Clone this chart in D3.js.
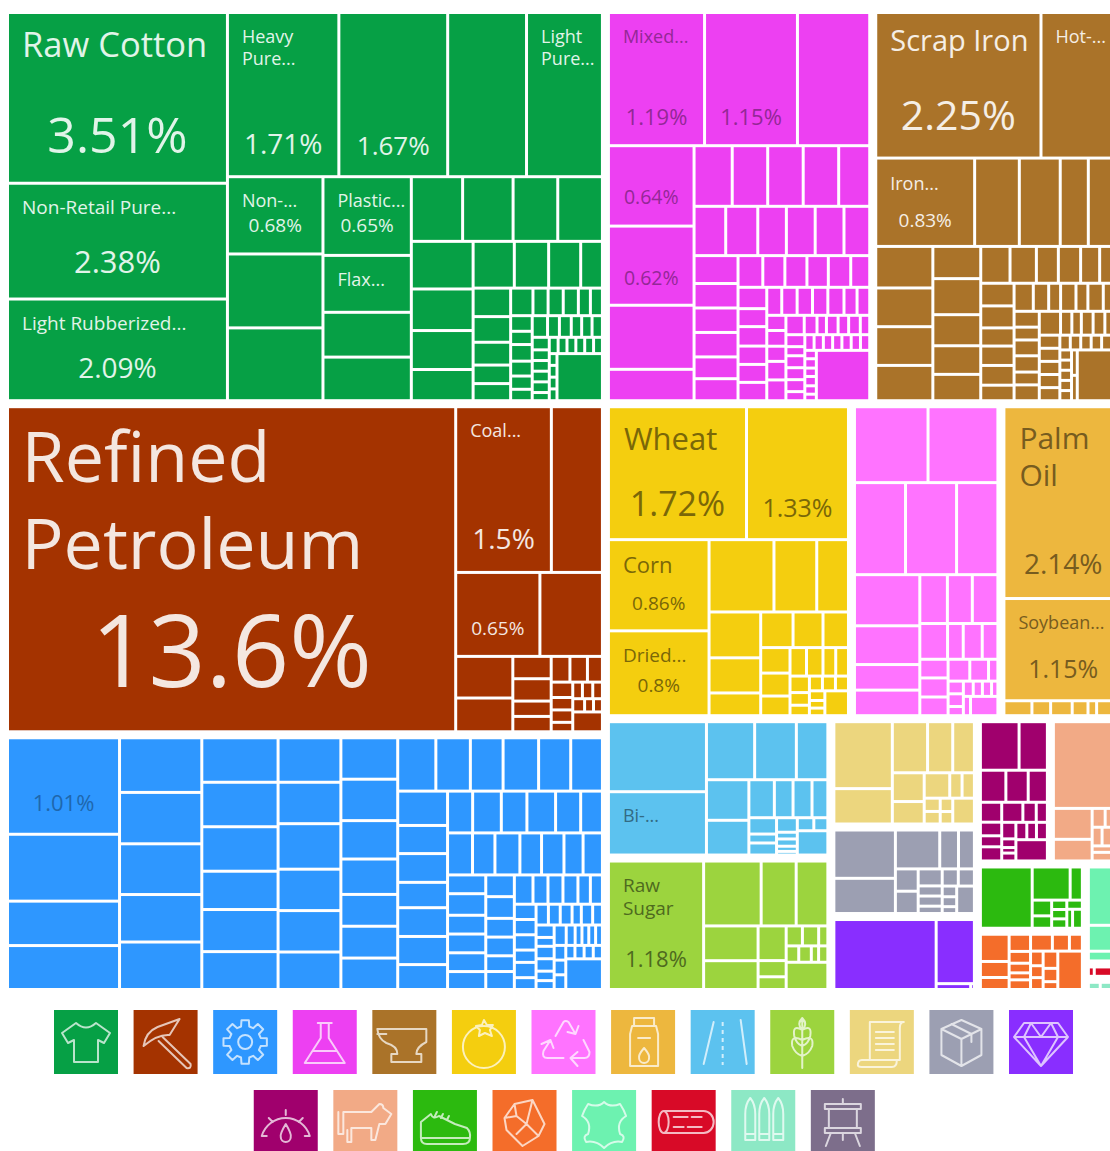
<!DOCTYPE html>
<html><head><meta charset="utf-8">
<script src="https://cdn.jsdelivr.net/npm/d3@7"></script>
<style>html,body{margin:0;background:#fff}svg{display:block}text{font-family:"Open Sans",sans-serif}</style>
</head><body><svg id="c" width="1110" height="1151"></svg>
<script>
// Sector tables
const sectorNames = ["Textiles","Mineral Products","Machines","Chemical Products","Metals","Foodstuffs","Recycled","Oils","Transportation","Vegetable Products","Paper","Instruments","Precious Metals","Plastics","Animal Products","Footwear","Stone","Animal Hides","Wood","Arms"];
const sectorColors = ["#06a045","#a43300","#2e97ff","#ed40f2","#aa7329","#f4ce0f","#ff73ff","#edb73e","#5cc2ef","#9cd43e","#ecd67e","#9c9fb2","#892eff","#a0006d","#f2aa86","#2cba0f","#f46d2a","#6df2b0","#d80a27","#8de8c5"];
const sectorShares = [21.49,18.05,14.05,9.56,9.04,7.03,4.27,3.56,2.85,2.75,1.44,1.19,1.01,0.962,0.99,0.659,0.60,0.364,0.056,0.048];
const inkDarken = [0,0,.32,.38,0,.5,.4,.5,.45,.5,.5,.5,0,0,0,0,0,.5,0,.5];
const sectorGroups = [[0,1,2],[3,4],[5,6,7],[8,9],[10,11,12],[13,14],[15,16],[17,18,19]];

// Share of trade (%) per product, grouped as the layout rows
const textiles = [[3.51,2.38,2.09],[1.71,1.67,1.21,1.165],[.69,.66,.65],[.65,.47,.37,.36],[.31,.305,.27,.27],[.275,.24,.225,.18],[.18,.15,.14,.095],[.1,.09,.08,.065,.06],[.0575,.039,.039,.039,.031,.031],[.0315,.0267,.0335,.03,.0267,.023],[.031,.024,.024,.021,.021,.021],[.02,.017,.017,.017,.017,.013],[.0135,.0135,.0135,.0135,.0135,.0135],[.0085,.0085,.0085,.0085],[.2]];
const mineral = [[13.6],[1.48,.79],[.66,.49],[.222,.18],[.08,.08,.055,.055],[.045,.042,.036],[.031,.025,.025,.019],[.015,.016,.015],[.0146,.011,.011],[.055]];
const machines = [[1.01,.70,.465,.46],[.42,.395,.39,.365,.365],[.317,.317,.317,.273,.30,.27],[.261,.243,.267,.243,.243,.22],[.22,.22,.204,.188,.169,.169,.167],[.19,.172,.163,.177,.16,.158],[.16,.131,.134,.118,.134,.131,.116],[.098,.112,.10,.112,.098,.085],[.098,.088,.098,.085,.088,.075,.076],[.067,.077,.067,.067,.067,.064],[.058,.058,.05,.05,.042,.048],[.051,.041,.041,.041,.034,.033],[.031,.031,.031,.025,.031,.024],[.024,.023,.023,.018,.022,.019],[.021,.015,.021,.021,.016,.015],[.023,.017,.013,.013,.013,.013],[.016,.016,.016],[.0115,.0115,.0115,.0115],[.105]];
const chemicals = [[1.19,1.15,.895],[.64,.63,.51,.25],[.215,.2,.2,.2,.175],[.145,.147,.131,.132,.132,.118],[.114,.10,.10,.10,.089,.09],[.073,.065,.065,.063,.066,.056],[.057,.048,.052,.049,.048,.049],[.039,.04,.04,.04,.042,.034,.033],[.027,.028,.027,.033,.037],[.033,.023,.017,.021,.019,.021,.017],[.021,.016,.021,.021,.021,.016],[.0135,.0135,.0135,.0135,.0135,.0135,.0135],[.009,.01,.009,.01,.009,.007],[.25]];
const metals = [[2.23,1.10],[.81,.366,.335,.23,.28],[.22,.205,.205,.187],[.143,.16,.138,.127,.117],[.10,.09,.075,.076,.065,.078],[.07,.068,.056,.06,.061,.048],[.05,.04,.031,.04,.031,.04,.05],[.037,.03,.037,.038,.03,.037],[.047,.025,.021,.026,.026,.018,.021],[.025,.025,.025,.025,.025],[.0143,.0143,.0143,.0143,.0143,.0143],[.011,.011,.011,.011,.011],[.0135,.0135],[.213]];
const foodstuffs = [[1.72,1.27],[.86,.80],[.44,.29,.215],[.222,.17,.11],[.108,.10,.085],[.07,.063,.054],[.044,.044,.034,.034],[.03,.023,.019],[.018,.018,.018],[.014,.011,.011],[.055]];
const recycled = [[.518,.492],[.436,.436,.353],[.31,.235,.155,.155],[.125,.113,.116],[.092,.052,.063,.052],[.049,.05,.049],[.044,.038,.019],[.018,.018,.013],[.014,.013,.013,.009],[.0128],[.049]];
const oils = [[2.12],[1.13],[.039,.026,.03,.022,.012,.036]];
const transportation = [[.638,.577],[.26,.225,.17],[.16,.137],[.09,.066,.067,.056],[.042,.023,.031],[.028,.013,.014,.01,.007],[.02,.017],[.069]];
const vegetable = [[1.13],[.345,.21,.19],[.175,.145],[.09,.042,.033],[.03,.03,.017],[.019,.019,.011,.014],[.105]];
const paper = [[.35,.185],[.161,.115,.099],[.082,.064],[.058,.028,.028],[.019,.018],[.015,.014],[.05]];
const instruments = [[.269,.196],[.156,.066,.056],[.046,.046],[.037,.022,.022,.016],[.025,.025],[.014,.013,.009],[.044]];
const precious = [[.654],[.224],[.0185,.002]];
const plastics = [[.168,.123],[.073,.064,.055],[.038,.026,.021,.027],[.038,.024,.02],[.021,.011,.007,.01],[.017,.015,.017],[.06]];
const animal = [[.55],[.11,.077],[.0225,.03],[.017,.035],[.018,.024]];
const footwear = [[.29],[.115,.037],[.028,.022],[.013,.013,.013],[.013],[.01,.017]];
const stone = [[.068,.04,.03],[.032,.022,.018,.013,.018],[.032,.025,.019],[.016,.013,.013],[.022,.017,.01],[.082]];
const hides = [[.18,.08,.03]];
const wood = [[.005,.024]];
const arms = [[.008,.008,.007]];
const sectorRows = [textiles,mineral,machines,chemicals,metals,foodstuffs,recycled,oils,transportation,vegetable,paper,instruments,precious,plastics,animal,footwear,stone,hides,wood,arms];

// Rows whose direction goes against the width/height rule (ties in the reference)
const flippedRows = new Set(["top:7","4:1","7:1","7:2","8:3","12:2","17:0","18:0","19:0"]);

// Text: sector, row, cell, title lines, percent
const labelCells = [
 [0,0,0,["Raw Cotton"],"3.51%"],[0,0,1,["Non-Retail Pure..."],"2.38%"],[0,0,2,["Light Rubberized..."],"2.09%"],
 [0,1,0,["Heavy","Pure..."],"1.71%"],[0,1,1,[],"1.67%"],[0,1,3,["Light","Pure..."],""],
 [0,2,0,["Non-..."],"0.68%"],[0,3,0,["Plastic..."],"0.65%"],[0,3,1,["Flax..."],""],
 [1,0,0,["Refined","Petroleum"],"13.6%"],[1,1,0,["Coal..."],"1.5%"],[1,2,0,[],"0.65%"],
 [3,0,0,["Mixed..."],"1.19%"],[3,0,1,[],"1.15%"],[3,1,0,[],"0.64%"],[3,1,1,[],"0.62%"],
 [4,0,0,["Scrap Iron"],"2.25%"],[4,0,1,["Hot-..."],""],[4,1,0,["Iron..."],"0.83%"],
 [5,0,0,["Wheat"],"1.72%"],[5,0,1,[],"1.33%"],[5,1,0,["Corn"],"0.86%"],[5,1,1,["Dried..."],"0.8%"],
 [7,0,0,["Palm","Oil"],"2.14%"],[7,1,0,["Soybean..."],"1.15%"],
 [2,0,0,[],"1.01%"],[8,0,1,["Bi-..."],""],[9,0,0,["Raw","Sugar"],"1.18%"]
];
// Text styling, same order: title size, title baseline, percent size, percent baseline (from cell top)
const labelStyles = [
 [34.5,43,50,139],[19,29,31,88],[19,29,28,77],[18,29,28,140],[0,0,26,141],[18,29,0,0],[18,29,19,54],[18,29,19,54],[18,29,0,0],
 [70,74,100,279],[18,29,28,141],[0,0,19,61],
 [18,29,22,111],[0,0,22,111],[0,0,19.5,57],[0,0,19.5,57],
 [29,37,41,116],[18,29,0,0],[18,30,19,67],
 [31,42,34,108],[0,0,25,109],[22,32,19,69],[19,30,19,60],
 [30,41,28,166],[18,29,25,78],[0,0,22,72],[18,29,0,0],[19,29,22,104]
];

// Legend order (row 2 ends with a sector too small to appear in the map)
const legendTop = [0,1,2,3,4,5,6,7,8,9,10,11,12];
const legendBottom = [13,14,15,16,17,18,19,20];
const legendColors = sectorColors.concat(["#7d6e8b"]);

// ---- hierarchy
const tree = {name:"root",children:sectorGroups.map((g,gi)=>({key:"top:"+gi,children:g.map(s=>({
  name:sectorNames[s],sector:s,
  children:sectorRows[s].map((r,ri)=>({key:s+":"+ri,children:r.map((v,ci)=>({value:v,sector:s,row:ri,cell:ci}))}))
}))}))};
const root = d3.hierarchy(tree).sum(d=>d.value||0);
// sector boxes are sized from their measured shares; the gaps are taken out of them
root.eachAfter(n=>{ if(n.depth===2) n.value=sectorShares[n.data.sector]; else if(n.depth<2) n.value=d3.sum(n.children,c=>c.value); });

function stackTile(node,x0,y0,x1,y1){
  let rest=d3.sum(node.children,c=>c.value);
  for(const c of node.children){
    const across=((x1-x0)<(y1-y0))!==flippedRows.has(c.data.key);
    c.across=across;
    const k=c.value/rest;
    if(across){const h=(y1-y0)*k;c.x0=x0;c.x1=x1;c.y0=y0;c.y1=y0+h;y0+=h;}
    else{const w=(x1-x0)*k;c.x0=x0;c.x1=x0+w;c.y0=y0;c.y1=y1;x0+=w;}
    rest-=c.value;
  }
}
function lineTile(node,x0,y0,x1,y1){
  const total=d3.sum(node.children,c=>c.value);
  let p=node.across?x0:y0;
  for(const c of node.children){
    if(node.across){const w=(x1-x0)*c.value/total;c.x0=p;c.x1=p+w;c.y0=y0;c.y1=y1;p+=w;}
    else{const h=(y1-y0)*c.value/total;c.y0=p;c.y1=p+h;c.x0=x0;c.x1=x1;p+=h;}
  }
}
function tile(node,x0,y0,x1,y1){
  if(node.depth%2===0) stackTile(node,x0,y0,x1,y1);
  else lineTile(node,x0,y0,x1,y1);
}
d3.treemap().tile(tile).size([1112,974]).paddingInner(n=>n.depth<2?9:3)(root);

const svg=d3.select("#c");
const map=svg.append("g").attr("transform","translate(9,14)");
map.selectAll("rect").data(root.leaves()).join("rect")
  .attr("x",d=>d.x0).attr("y",d=>d.y0)
  .attr("width",d=>Math.max(0,d.x1-d.x0)).attr("height",d=>Math.max(0,d.y1-d.y0))
  .attr("fill",d=>sectorColors[d.data.sector]);

function ink(s){return inkDarken[s]?d3.interpolateRgb(sectorColors[s],"#000")(inkDarken[s]):d3.interpolateRgb(sectorColors[s],"#fff")(0.88);}
const leaves=root.leaves();
labelCells.forEach((l,i)=>{
  const [s,r,c,lines,pct]=l,[ts,ty,ps,py]=labelStyles[i];
  const n=leaves.find(d=>d.data.sector===s&&d.data.row===r&&d.data.cell===c);
  const dx=ts>=60?12.5:ts>=34?13:ts>=30?14:13;
  lines.forEach((t,j)=>map.append("text").attr("x",n.x0+dx).attr("y",n.y0+ty+j*ts*1.24)
    .attr("font-size",ts).attr("fill",ink(s)).text(t));
  if(pct) map.append("text").attr("x",(n.x0+n.x1)/2).attr("y",n.y0+py).attr("text-anchor","middle")
    .attr("font-size",ps).attr("fill",ink(s)).text(pct);
});

// ---- legend icons (drawn in a 64 box)
function gearPath(){let p="";const t=8;for(let i=0;i<t;i++){const a=i/t*2*Math.PI;
  [[-.26,16],[-.17,22],[.17,22],[.26,16]].forEach(([o,r],j)=>{p+=(i===0&&j===0?"M":"L")+(32+r*Math.cos(a+o)).toFixed(1)+" "+(32+r*Math.sin(a+o)).toFixed(1);});}
  return p+"Z M39 32a7 7 0 1 0 -14 0a7 7 0 1 0 14 0";}
const icons=[
 "M22 13L8 23L14 33L20 30V52H44V30L50 33L56 23L42 13Q32 22 22 13Z",
 "M10 36Q12 22 24 17L46 9L36 25Q24 24 10 36ZM29 27L57 54Q58 59 53 58L25 31",
 gearPath(),
 "M25 13H39M28 13V28L12 53H52L36 28V13M20 41H44",
 "M5 19H54V32Q44 37 44 44H49V52H19V44H25Q25 36 14 33Q6 29 5 19ZM5 24H14",
 "M53 37a21 21 0 1 1 -42 0a21 21 0 1 1 42 0ZM32 10L35 15L41 15L38 20L40 26L33 23L27 26L28 20L24 16L30 15Z",
 "M24 26L32 12Q34 10 37 12L44 24M47 16L44 24L36 22M52 30L58 42Q58 48 53 48H40M46 42L39 48L46 56M32 48H16Q10 48 12 41L19 30M10 34L19 30L22 38",
 "M23 8H43V16H23ZM21 16H45L47 24V56H19V24ZM27 28H39M33 38Q27 45 28 48A5 5 0 0 0 38 48Q39 45 33 38Z",
 "M23 12L13 54M50 10L56 54",
 "M32 8V58M32 20Q22 14 24 26Q26 34 32 36M32 20Q42 14 40 26Q38 34 32 36M32 30Q20 24 22 36Q25 44 32 46M32 30Q44 24 42 36Q39 44 32 46M32 8Q26 14 32 20Q38 14 32 8",
 "M20 12H54Q50 12 50 18V50H12Q8 50 8 55Q8 57 12 57H42Q47 57 47 50M20 12Q20 30 20 50M26 22H44M26 28H44M26 34H44M26 40H44",
 "M32 10L52 19V45L32 56L12 45V19ZM12 19L32 29L52 19M32 29V56M22 14L42 24V32",
 "M15 13H49L59 27L32 56L5 27ZM5 27H59M22 13L15 27L32 56L49 27L42 13M22 13L32 27L42 13",
 "M8 46A25 25 0 0 1 56 46M8 46H13M51 46H56M32 20V25M15 28L19 32M49 28L45 32M32 34Q26 44 27 47A5 5 0 0 0 37 47Q38 44 32 34Z",
 "M5 22V44H10V22H38L46 14Q50 14 50 18L58 24L52 34H46L42 50H38V38H18V52H14V40",
 "M8 44V32L18 24Q20 30 26 26L30 28L42 34L54 38Q58 42 57 48H8ZM8 48Q8 54 14 54H50Q57 54 57 48M24 22L22 26M30 24L28 28M36 26L34 30",
 "M22 14L40 10L52 34L46 46L30 56L14 40L12 28ZM22 14L24 26L12 28M24 26L34 34L40 10M34 34L46 46M34 34L24 44",
 "M16 14Q26 18 32 12Q38 18 48 14Q52 20 54 26Q44 32 48 44Q54 46 50 52Q40 50 32 58Q24 50 14 52Q10 46 16 44Q20 32 10 26Q12 20 16 14Z",
 "M12 21H52A10 11 0 0 1 52 43H12A5 11 0 0 1 12 21ZM12 21A5 11 0 0 1 12 43M22 27H36M40 27H50M22 37H32M36 37H50",
 "M14 50V24Q14 14 19 8Q24 14 24 24V50ZM14 44H24M28 50V24Q28 14 33 8Q38 14 38 24V50ZM28 44H38M42 50V24Q42 14 47 8Q52 14 52 24V50ZM42 44H52",
 "M14 14H50V19H14ZM18 19V38M46 19V38M14 38H50V43H14ZM32 9V14M20 43L15 56M44 43L49 56M32 43V50"
];
const iconX=d3.scaleLinear().domain([0,12]).range([54,1009]);
const legend=svg.append("g");
function drawIcon(s,x,y){
  const g=legend.append("g").attr("transform",`translate(${x},${y})`);
  g.append("rect").attr("width",64).attr("height",64).attr("fill",legendColors[s]);
  g.append("path").attr("d",icons[s]).attr("fill","none").attr("stroke-linecap","round").attr("stroke-linejoin","round")
   .attr("stroke",d3.interpolateRgb(legendColors[s],"#fff")(0.72)).attr("stroke-width",2);
  if(s===8) g.append("line").attr("x1",32).attr("x2",32).attr("y1",12).attr("y2",55).attr("stroke",d3.interpolateRgb(legendColors[s],"#fff")(0.72)).attr("stroke-width",2).attr("stroke-dasharray","4 4");
}
legendTop.forEach((s,i)=>drawIcon(s,iconX(i),1010));
legendBottom.forEach((s,i)=>drawIcon(s,iconX(i+2.51),1090));
</script></body></html>
